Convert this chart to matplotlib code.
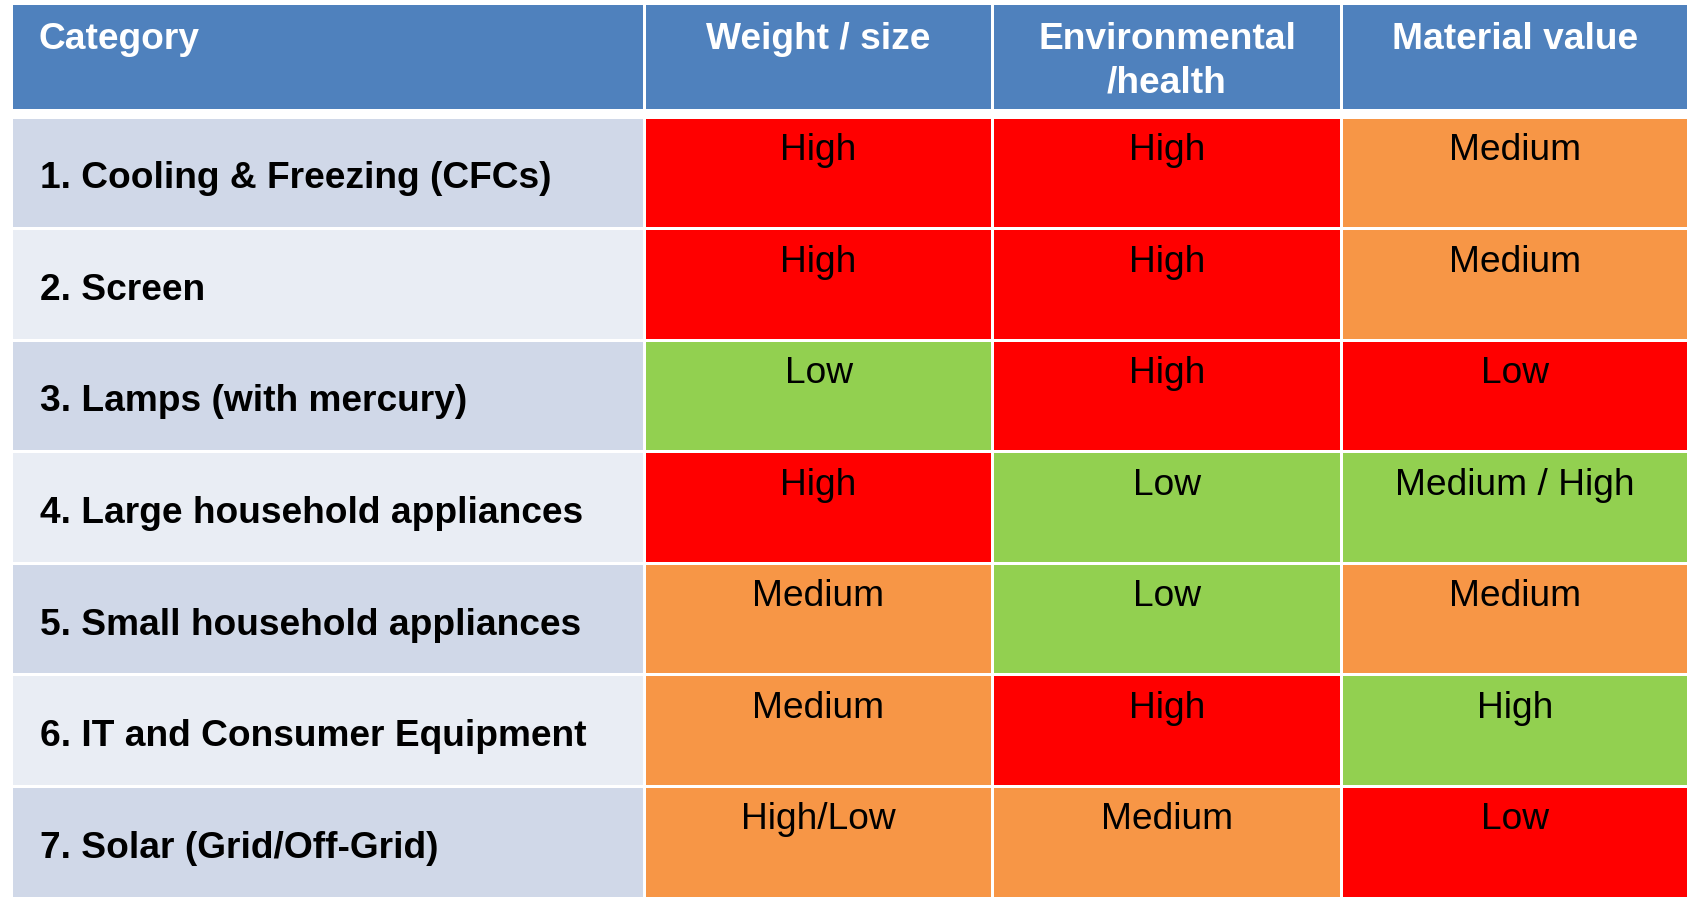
import matplotlib
matplotlib.use("Agg")
import matplotlib.pyplot as plt
from matplotlib.patches import Rectangle

plt.rcParams['font.family'] = ['Liberation Sans', 'DejaVu Sans']

# Table content
headers = ["Category", "Weight / size", "Environmental\n/health", "Material value"]
categories = [
    "1. Cooling & Freezing (CFCs)",
    "2. Screen",
    "3. Lamps (with mercury)",
    "4. Large household appliances",
    "5. Small household appliances",
    "6. IT and Consumer Equipment",
    "7. Solar (Grid/Off-Grid)",
]
weight_size = ["High", "High", "Low", "High", "Medium", "Medium", "High/Low"]
environmental = ["High", "High", "High", "Low", "Low", "High", "Medium"]
material_value = ["Medium", "Medium", "Low", "Medium / High", "Medium", "High", "Low"]

# Fill colour of each rated cell (per column, since a "Low" material value is flagged red)
weight_colors = ["#FF0000", "#FF0000", "#92D050", "#FF0000", "#F79646", "#F79646", "#F79646"]
env_colors = ["#FF0000", "#FF0000", "#FF0000", "#92D050", "#92D050", "#FF0000", "#F79646"]
material_colors = ["#F79646", "#F79646", "#FF0000", "#92D050", "#F79646", "#92D050", "#FF0000"]

HEADER_BG = "#4F81BD"
LABEL_BG = ["#D0D8E8", "#E9EDF4"]

W, H = 1688, 898
fig = plt.figure(figsize=(W / 100, H / 100), dpi=100)
ax = fig.add_axes([0, 0, 1, 1])
ax.set_xlim(0, W)
ax.set_ylim(H, 0)
ax.axis("off")

col_edges = [11, 644.5, 992.5, 1341.5, 1688]
header_top, header_bottom = 5, 109
body_top = 117
row_h = (H - body_top) / len(categories)
gap = 1.5
fs = 26.7

def cell(x0, x1, y0, y1, color):
    ax.add_patch(Rectangle((x0 + gap, y0 + gap), (x1 - x0) - 2 * gap, (y1 - y0) - 2 * gap,
                           facecolor=color, edgecolor="none"))

# Header row
for j, title in enumerate(headers):
    x0, x1 = col_edges[j], col_edges[j + 1]
    cell(x0, x1, header_top - gap, header_bottom + gap, HEADER_BG)
    if j == 0:
        ax.text(x0 + 27, header_top + 17, title, color="white", fontsize=fs,
                fontweight="bold", ha="left", va="top")
    else:
        ax.text((x0 + x1) / 2, header_top + 17, title, color="white", fontsize=fs,
                fontweight="bold", ha="center", va="top", linespacing=1.32,
                multialignment="center")

# Body rows
value_cols = [(weight_size, weight_colors), (environmental, env_colors),
              (material_value, material_colors)]
for i, cat in enumerate(categories):
    y0 = body_top + i * row_h
    y1 = y0 + row_h
    cell(col_edges[0], col_edges[1], y0, y1, LABEL_BG[i % 2])
    ax.text(col_edges[0] + 29, (y0 + y1) / 2 + 6, cat, color="black", fontsize=fs,
            fontweight="bold", ha="left", va="center")
    for j, (vals, cols) in enumerate(value_cols):
        x0, x1 = col_edges[j + 1], col_edges[j + 2]
        cell(x0, x1, y0, y1, cols[i])
        ax.text((x0 + x1) / 2, y0 + 16, vals[i], color="black", fontsize=fs,
                ha="center", va="top")

fig.savefig("out.png", dpi=100, facecolor="white")
